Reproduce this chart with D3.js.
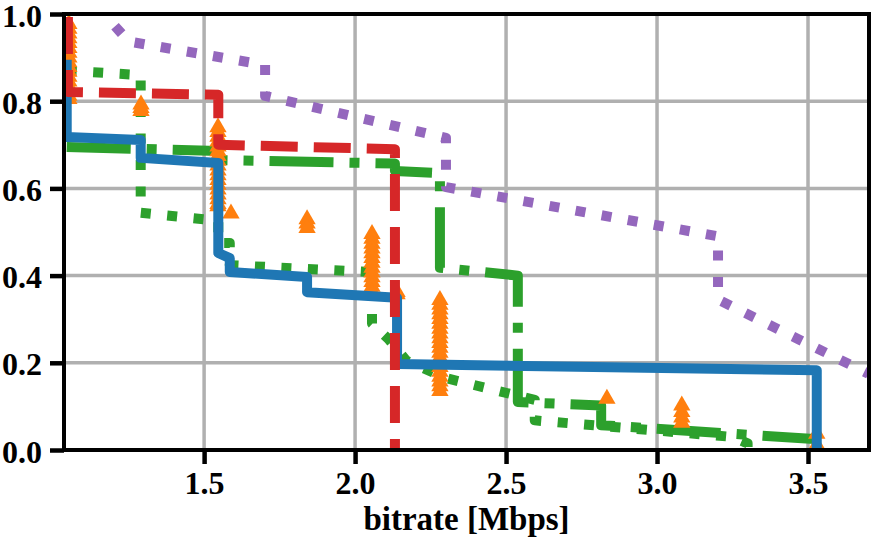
<!DOCTYPE html>
<html>
<head>
<meta charset="utf-8">
<script src="https://cdn.jsdelivr.net/npm/d3@7"></script>
<style>
	body { margin: 0; background: #fff; }
	svg { display: block; }
</style>
</head>
<body>
<div id="chart"></div>
<script>
// step curves, [bitrate, fraction]
const blueSolid = [[1.045, 0.895], [1.045, 0.718], [1.29, 0.711], [1.29, 0.670], [1.547, 0.658], [1.547, 0.452],
	[1.585, 0.440], [1.585, 0.408], [1.841, 0.397], [1.841, 0.362], [2.139, 0.349], [2.139, 0.197], [3.529, 0.183], [3.529, 0]];
const redDashed = [[1.049, 0.993], [1.049, 0.821], [1.547, 0.815], [1.547, 0.700], [2.132, 0.690], [2.132, 0]];
const greenDotted = [[1.045, 0.870], [1.29, 0.860], [1.29, 0.544], [1.547, 0.526], [1.547, 0.475], [1.585, 0.475],
	[1.585, 0.424], [2.056, 0.408], [2.056, 0.290], [2.11, 0.255], [2.17, 0.205], [2.30, 0.165], [2.595, 0.115],
	[2.595, 0.068], [3.25, 0.030], [3.30, 0.015], [3.30, 0]];
const greenDashDot = [[1.045, 0.695], [1.547, 0.686], [1.547, 0.665], [2.132, 0.657], [2.132, 0.640], [2.281, 0.635],
	[2.281, 0.418], [2.539, 0.400], [2.539, 0.110], [2.815, 0.102], [2.815, 0.057], [3.52, 0.025]];
const purpleDotted = [[1.205, 0.972], [1.25, 0.937], [1.702, 0.883], [1.702, 0.812], [2.301, 0.716], [2.301, 0.603],
	[3.202, 0.490], [3.202, 0.345], [3.70, 0.175]];

// orange triangle stacks: bitrate and the fractions stacked there
const orangeX = [1.052, 1.291, 1.546, 1.589, 1.841, 2.056, 2.139, 2.281, 2.834, 3.082, 3.529];
const orangeY = [
	[0.975, 0.964, 0.953, 0.942, 0.931, 0.920, 0.909, 0.898, 0.887, 0.876, 0.865, 0.854, 0.843, 0.832, 0.821, 0.810, 0.803],
	[0.790, 0.782, 0.775],
	[0.738, 0.727, 0.716, 0.705, 0.694, 0.683, 0.672, 0.661, 0.650, 0.639, 0.628, 0.617, 0.606, 0.595, 0.584, 0.573, 0.562, 0.557],
	[0.540],
	[0.527, 0.517, 0.507],
	[0.493, 0.482, 0.471, 0.460, 0.449, 0.438, 0.427, 0.416, 0.405, 0.394, 0.383, 0.372, 0.361, 0.356],
	[0.360, 0.355],
	[0.342, 0.331, 0.320, 0.309, 0.298, 0.287, 0.276, 0.265, 0.254, 0.243, 0.232, 0.221, 0.210, 0.199, 0.188, 0.177, 0.166, 0.155, 0.144, 0.133],
	[0.115],
	[0.100, 0.085, 0.072, 0.060],
	[0.035, 0.010]
];

const xTicks = [1.5, 2.0, 2.5, 3.0, 3.5];
const yTicks = [0.0, 0.2, 0.4, 0.6, 0.8, 1.0];

const font = "'Liberation Serif', 'Times New Roman', Times, serif";
const width = 884, height = 540;
const margin = {top: 14, right: 15, bottom: 90, left: 64};
const w = width - margin.left - margin.right;
const h = height - margin.top - margin.bottom;

const x = d3.scaleLinear().domain([1.036, 3.702]).range([0, w]);
const y = d3.scaleLinear().domain([0, 1]).range([h, 0]);

const svg = d3.select("#chart").append("svg")
	.attr("width", width)
	.attr("height", height);

const g = svg.append("g")
	.attr("transform", `translate(${margin.left},${margin.top})`);

g.append("clipPath").attr("id", "clip")
	.append("rect").attr("width", w).attr("height", h);

// grid
g.append("g").selectAll("line").data(xTicks).enter().append("line")
	.attr("x1", d => x(d)).attr("x2", d => x(d))
	.attr("y1", 0).attr("y2", h)
	.attr("stroke", "#b0b0b0").attr("stroke-width", 3.5);
g.append("g").selectAll("line").data(yTicks).enter().append("line")
	.attr("x1", 0).attr("x2", w)
	.attr("y1", d => y(d)).attr("y2", d => y(d))
	.attr("stroke", "#b0b0b0").attr("stroke-width", 3.5);

const line = d3.line().x(d => x(d[0])).y(d => y(d[1]));
const plot = g.append("g").attr("clip-path", "url(#clip)");

function drawLine(data, color, dash) {
	plot.append("path")
		.attr("d", line(data))
		.attr("fill", "none")
		.attr("stroke", color)
		.attr("stroke-width", 10)
		.attr("stroke-linejoin", "round")
		.attr("stroke-dasharray", dash);
}

drawLine(greenDashDot, "#2ca02c", "64,16,10,16");
drawLine(greenDotted, "#2ca02c", "10,16.5");

const tri = d3.symbol().type(d3.symbolTriangle).size(130);
orangeX.forEach((bx, i) => {
	plot.append("g").selectAll("path").data(orangeY[i]).enter().append("path")
		.attr("d", tri)
		.attr("transform", d => `translate(${x(bx)},${y(d) - 1})`)
		.attr("fill", "#ff7f0e");
});

drawLine(blueSolid, "#1f77b4", null);
drawLine(redDashed, "#d62728", "37,16");
drawLine(purpleDotted, "#9467bd", "10,16.5");

// axes
const xAxis = g.append("g")
	.attr("transform", `translate(0,${h})`)
	.call(d3.axisBottom(x).tickValues(xTicks).tickFormat(d3.format(".1f")).tickSize(14).tickPadding(7));
const yAxis = g.append("g")
	.call(d3.axisLeft(y).tickValues(yTicks).tickFormat(d3.format(".1f")).tickSize(14).tickPadding(8));

[xAxis, yAxis].forEach(a => {
	a.attr("font-family", null).attr("font-size", null);
	a.select(".domain").remove();
	a.selectAll(".tick line").attr("stroke", "#000").attr("stroke-width", 4.5);
	a.selectAll(".tick text")
		.attr("fill", "#000")
		.style("font-family", font)
		.style("font-weight", "bold")
		.style("font-size", "32px");
});
yAxis.selectAll(".tick text").attr("dy", "0.38em");

g.append("rect")
	.attr("width", w).attr("height", h)
	.attr("fill", "none")
	.attr("stroke", "#000")
	.attr("stroke-width", 4);

svg.append("text")
	.attr("x", margin.left + w / 2)
	.attr("y", 530)
	.attr("text-anchor", "middle")
	.style("font-family", font)
	.style("font-weight", "bold")
	.style("font-size", "33px")
	.text("bitrate [Mbps]");
</script>
</body>
</html>
